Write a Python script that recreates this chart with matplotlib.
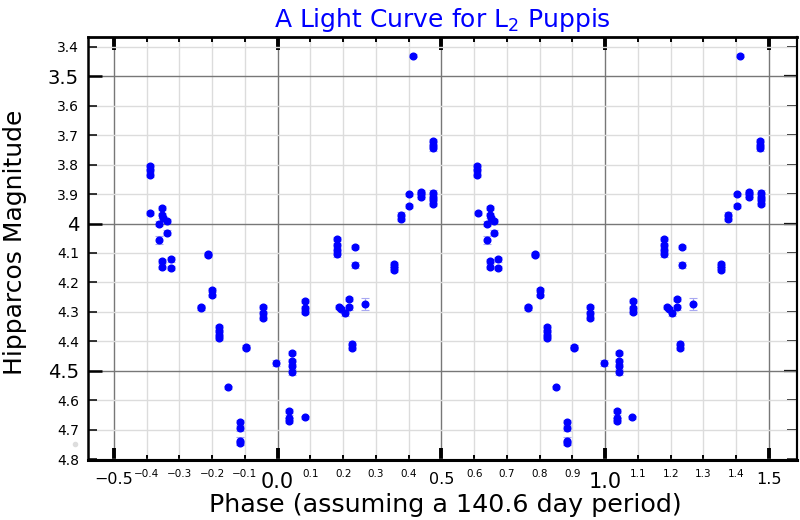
import numpy as np
import matplotlib
matplotlib.use('Agg')
import matplotlib.pyplot as plt
import matplotlib.transforms as mtransforms

# Hipparcos measurements, phase folded (each point is drawn at phase and phase+1)
phase = [-0.391, -0.391, -0.391, -0.389, -0.352, -0.352, -0.350, -0.338, -0.362, -0.338,
         -0.362, -0.352, -0.352, -0.327, -0.327, -0.213, -0.213, -0.200, -0.200, -0.235,
         -0.235, -0.179, -0.179, -0.179, -0.179, -0.096, -0.096, -0.045, -0.045, -0.045,
         -0.005, -0.151, -0.116, -0.116, -0.116, -0.116, 0.043, 0.043, 0.043, 0.043,
         0.035, 0.035, 0.035, 0.082, 0.085, 0.085, 0.085, 0.181, 0.181, 0.181,
         0.181, 0.236, 0.236, 0.188, 0.194, 0.205, 0.218, 0.219, 0.227, 0.227,
         0.268, 0.355, 0.355, 0.355, 0.376, 0.376, 0.401, 0.401, 0.412, 0.474,
         0.474, 0.474, 0.439, 0.439, 0.439, 0.475, 0.475, 0.475, 0.475]
mag = [3.805, 3.820, 3.835, 3.963, 3.947, 3.972, 3.982, 3.991, 4.000, 4.031,
       4.056, 4.127, 4.146, 4.122, 4.151, 4.104, 4.107, 4.227, 4.241, 4.284,
       4.287, 4.352, 4.365, 4.377, 4.388, 4.421, 4.418, 4.284, 4.304, 4.320,
       4.474, 4.556, 4.675, 4.695, 4.737, 4.745, 4.438, 4.468, 4.485, 4.505,
       4.637, 4.659, 4.669, 4.657, 4.263, 4.286, 4.301, 4.053, 4.074, 4.089,
       4.105, 4.081, 4.142, 4.283, 4.290, 4.304, 4.255, 4.284, 4.408, 4.421,
       4.272, 4.138, 4.148, 4.157, 3.970, 3.984, 3.941, 3.901, 3.431, 3.720,
       3.733, 3.745, 3.893, 3.901, 3.909, 3.896, 3.909, 3.921, 3.934]
err = [0.006, 0.006, 0.006, 0.007, 0.008, 0.008, 0.008, 0.007, 0.008, 0.009,
       0.014, 0.008, 0.007, 0.007, 0.008, 0.006, 0.006, 0.007, 0.007, 0.008,
       0.008, 0.008, 0.008, 0.008, 0.007, 0.008, 0.007, 0.007, 0.008, 0.007,
       0.010, 0.006, 0.007, 0.008, 0.014, 0.008, 0.007, 0.008, 0.008, 0.008,
       0.007, 0.008, 0.008, 0.005, 0.008, 0.007, 0.007, 0.007, 0.008, 0.008,
       0.008, 0.007, 0.010, 0.008, 0.008, 0.009, 0.007, 0.008, 0.008, 0.009,
       0.020, 0.008, 0.008, 0.008, 0.008, 0.008, 0.008, 0.006, 0.005, 0.008,
       0.008, 0.008, 0.008, 0.008, 0.008, 0.008, 0.008, 0.008, 0.008]

# faint stray point left of the frame
stray_phase = -0.618
stray_mag = 4.748

x_major = [-0.5, 0.0, 0.5, 1.0, 1.5]
x_major_labels = ['\u22120.5', '0.0', '0.5', '1.0', '1.5']
x_minor = [-0.4, -0.3, -0.2, -0.1, 0.1, 0.2, 0.3, 0.4, 0.6, 0.7, 0.8, 0.9,
           1.1, 1.2, 1.3, 1.4]
x_minor_labels = ['\u22120.4', '\u22120.3', '\u22120.2', '\u22120.1', '0.1', '0.2', '0.3', '0.4',
                  '0.6', '0.7', '0.8', '0.9', '1.1', '1.2', '1.3', '1.4']
y_major = [3.5, 4.0, 4.5]
y_major_labels = ['3.5', '4', '4.5']
y_minor = [3.4, 3.6, 3.7, 3.8, 3.9, 4.1, 4.2, 4.3, 4.4, 4.6, 4.7, 4.8]
y_minor_labels = ['3.4', '3.6', '3.7', '3.8', '3.9', '4.1', '4.2', '4.3', '4.4',
                  '4.6', '4.7', '4.8']

phase = np.array(phase)
mag = np.array(mag)
err = np.array(err)

fig = plt.figure(figsize=(8, 5.2), dpi=100)
ax = fig.add_axes([0.11, 0.115, 0.886, 0.814])

for shift in (0.0, 1.0):
    ax.errorbar(phase + shift, mag, yerr=err, fmt='o', color='blue', ms=4.8,
                ecolor='#a8a8f2', elinewidth=0.8, capsize=3, capthick=0.8, zorder=3)
ax.plot(stray_phase, stray_mag, 'o', color='#dddddd', ms=3, clip_on=False)

ax.set_xlim(-0.579, 1.585)
ax.set_ylim(4.803, 3.367)

ax.set_xticks(x_major, x_major_labels)
ax.set_xticks(x_minor, x_minor_labels, minor=True)
ax.set_yticks(y_major, y_major_labels)
ax.set_yticks(y_minor, y_minor_labels, minor=True)

for lab in ax.get_xticklabels():
    lab.set_fontsize(15 if lab.get_text() in ('0.0', '1.0') else 11.5)
for lab in ax.get_xticklabels(minor=True):
    lab.set_fontsize(7.5)
for lab in ax.get_yticklabels():
    lab.set_fontsize(14)
    if lab.get_text() == '4':
        # the lone "4" sits a bit further left in the original
        lab.set_transform(lab.get_transform() +
                          mtransforms.ScaledTranslation(-6 / 100, 0, fig.dpi_scale_trans))
for lab in ax.get_yticklabels(minor=True):
    lab.set_fontsize(10)

ax.tick_params(axis='x', which='major', direction='in', length=9, width=2.8,
               top=True, bottom=True, pad=8.5)
ax.tick_params(axis='x', which='minor', direction='in', length=3.6, width=1.4,
               top=True, bottom=True, pad=6.5)
ax.tick_params(axis='y', which='major', direction='in', length=10, width=1.8,
               left=True, right=False, pad=6.5)
ax.tick_params(axis='y', which='minor', direction='in', length=6.5, width=1.1,
               left=True, right=False, pad=6.5)

# right side ticks point inward only
sec = ax.secondary_yaxis('right')
sec.set_yticks(y_major)
sec.set_yticks(y_minor, minor=True)
sec.tick_params(which='major', direction='in', length=9.5, width=1.6, labelright=False)
sec.tick_params(which='minor', direction='in', length=7, width=1.2, labelright=False)
sec.spines['right'].set_linewidth(1.5)

ax.grid(which='minor', color='#dcdcdc', lw=1.0)
ax.grid(which='major', color='#777777', lw=1.0)
ax.set_axisbelow(True)

ax.spines['bottom'].set_linewidth(2.2)
ax.spines['top'].set_linewidth(2.0)
ax.spines['left'].set_linewidth(1.8)
ax.spines['right'].set_linewidth(1.5)

ax.set_title('A Light Curve for L$_2$ Puppis', color='blue', fontsize=18, pad=7)
ax.set_xlabel('Phase (assuming a 140.6 day period)', fontsize=18.3)
ax.set_ylabel('Hipparcos Magnitude', fontsize=18)
ax.xaxis.set_label_coords(0.504, -0.077)
ax.yaxis.set_label_coords(-0.086, 0.515)

fig.savefig('out.png', dpi=100)
